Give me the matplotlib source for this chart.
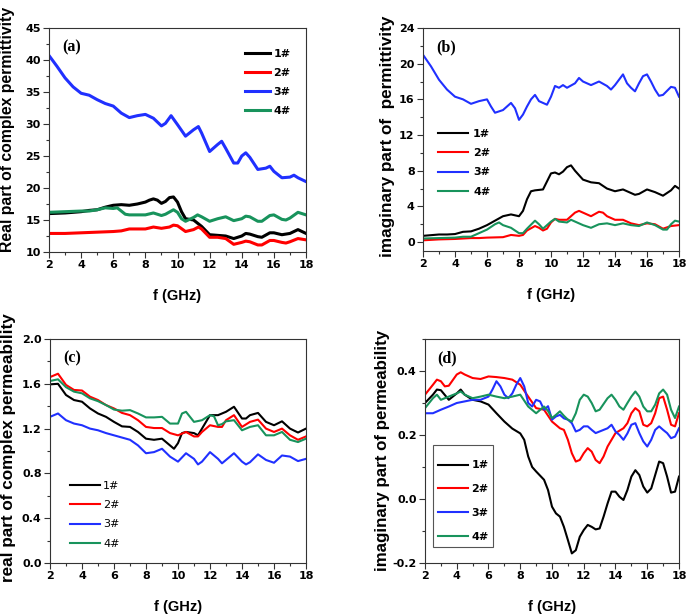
import numpy as np
import matplotlib
matplotlib.use("Agg")
import matplotlib.pyplot as plt
from matplotlib.ticker import MultipleLocator, FormatStrFormatter
from matplotlib.patches import Rectangle

plt.rcParams['font.family'] = ['Liberation Sans', 'DejaVu Sans']
plt.rcParams['font.weight'] = 'bold'

labels = ['1#', '2#', '3#', '4#']
colors = ['#000000', '#ff0000', '#2030ff', '#18935c']

# ---------------- (a) real part of permittivity ----------------
a1_f = [2, 3, 4, 4.5, 5, 5.5, 6, 6.5, 7, 7.5, 8, 8.25, 8.5, 8.75, 9, 9.25, 9.5, 9.75, 10, 10.25, 10.5, 11, 11.5, 12, 12.5, 13, 13.5, 14, 14.25, 14.5, 15, 15.25, 15.75, 16, 16.5, 17, 17.5, 18]
a1_v = [16.0, 16.1, 16.3, 16.5, 16.6, 17.0, 17.3, 17.4, 17.3, 17.5, 17.8, 18.1, 18.3, 18.1, 17.6, 17.9, 18.5, 18.6, 17.8, 16.3, 15.2, 15.0, 14.0, 12.7, 12.6, 12.5, 12.1, 12.5, 12.9, 12.8, 12.4, 12.3, 13.0, 13.0, 12.7, 12.9, 13.5, 12.9]
a2_f = [2, 3, 4, 5, 6, 6.5, 7, 7.5, 8, 8.5, 9, 9.5, 9.75, 10, 10.5, 11, 11.3, 11.5, 12, 12.5, 13, 13.5, 14, 14.25, 14.5, 15, 15.25, 15.75, 16, 16.5, 16.75, 17, 17.5, 18]
a2_v = [12.9, 12.9, 13.0, 13.1, 13.2, 13.3, 13.6, 13.6, 13.6, 13.9, 13.7, 13.9, 14.2, 14.1, 13.2, 13.5, 13.9, 13.6, 12.3, 12.3, 12.1, 11.2, 11.5, 11.7, 11.6, 11.1, 11.1, 11.8, 11.8, 11.5, 11.4, 11.6, 12.1, 11.9]
a3_f = [2, 2.5, 3, 3.5, 4, 4.5, 5, 5.5, 6, 6.5, 7, 7.5, 8, 8.5, 9, 9.25, 9.6, 10, 10.5, 10.75, 11, 11.3, 11.5, 12, 12.5, 12.75, 13, 13.5, 13.75, 14, 14.25, 14.5, 15, 15.5, 15.75, 16, 16.5, 17, 17.25, 17.5, 18]
a3_v = [40.7, 39.0, 37.2, 35.8, 34.8, 34.5, 33.8, 33.2, 32.8, 31.7, 31.0, 31.3, 31.5, 30.9, 29.7, 30.1, 31.3, 29.9, 28.1, 28.6, 29.1, 29.6, 28.6, 25.7, 26.8, 27.3, 26.2, 23.9, 23.9, 25.0, 25.5, 24.8, 22.9, 23.1, 23.4, 22.6, 21.6, 21.7, 22.0, 21.6, 21.0]
a4_f = [2, 3, 4, 4.5, 5, 5.5, 6, 6.25, 6.75, 7, 7.5, 8, 8.5, 9, 9.25, 9.75, 10, 10.25, 10.5, 11, 11.25, 11.5, 12, 12.5, 13, 13.5, 14, 14.25, 14.5, 15, 15.25, 15.75, 16, 16.5, 16.75, 17, 17.5, 18]
a4_v = [16.2, 16.3, 16.4, 16.4, 16.6, 16.9, 16.8, 16.9, 15.9, 15.8, 15.8, 15.8, 16.1, 15.7, 15.9, 16.6, 16.2, 15.2, 14.8, 15.4, 15.8, 15.5, 14.8, 15.2, 15.5, 14.9, 15.2, 15.6, 15.5, 14.8, 14.8, 15.7, 15.8, 15.1, 15.0, 15.3, 16.2, 15.8]

# ---------------- (b) imaginary part of permittivity ----------------
b1_f = [2, 3, 3.5, 4, 4.5, 5, 5.5, 6, 6.5, 7, 7.5, 8, 8.25, 8.5, 8.75, 9, 9.5, 9.75, 10, 10.25, 10.5, 10.75, 11, 11.25, 11.5, 12, 12.5, 13, 13.5, 14, 14.5, 15, 15.25, 15.5, 16, 16.5, 17, 17.5, 17.75, 18]
b1_v = [0.7, 0.85, 0.85, 0.9, 1.15, 1.2, 1.5, 1.9, 2.4, 2.9, 3.1, 2.9, 3.5, 4.8, 5.7, 5.8, 5.9, 6.8, 7.7, 7.8, 7.6, 7.9, 8.4, 8.6, 8.0, 7.0, 6.7, 6.6, 6.0, 5.7, 5.9, 5.5, 5.3, 5.4, 5.9, 5.6, 5.2, 5.8, 6.3, 6.0]
b2_f = [2, 3, 4, 5, 5.5, 6, 7, 7.5, 8, 8.25, 8.5, 9, 9.25, 9.5, 9.75, 10, 10.25, 10.5, 11, 11.5, 11.75, 12, 12.5, 13, 13.25, 13.5, 14, 14.5, 15, 15.5, 16, 16.5, 17, 17.5, 18]
b2_v = [0.2, 0.3, 0.35, 0.45, 0.45, 0.5, 0.55, 0.8, 0.7, 0.8, 1.3, 1.8, 1.6, 1.3, 1.5, 2.2, 2.6, 2.5, 2.5, 3.3, 3.5, 3.3, 2.9, 3.4, 3.3, 2.9, 2.5, 2.5, 2.1, 1.9, 2.1, 2.0, 1.5, 1.8, 1.9]
b3_f = [2, 2.5, 3, 3.5, 4, 4.5, 5, 5.5, 6, 6.25, 6.5, 7, 7.5, 7.75, 8, 8.25, 8.5, 8.75, 9, 9.25, 9.5, 9.75, 10, 10.25, 10.5, 10.75, 11, 11.5, 11.75, 12, 12.5, 13, 13.5, 13.75, 14, 14.25, 14.5, 14.75, 15, 15.25, 15.5, 15.75, 16, 16.25, 16.5, 16.75, 17, 17.5, 17.75, 18]
b3_v = [21.0, 19.7, 18.2, 17.1, 16.3, 16.0, 15.5, 15.8, 16.0, 15.2, 14.5, 14.8, 15.6, 15.0, 13.7, 14.3, 15.2, 16.0, 16.5, 15.8, 15.6, 15.4, 16.3, 17.5, 17.3, 17.6, 17.3, 17.8, 18.4, 18.0, 17.6, 18.0, 17.5, 17.1, 17.6, 18.2, 18.8, 17.8, 17.3, 16.9, 17.8, 18.6, 18.8, 18.0, 17.1, 16.4, 16.5, 17.4, 17.3, 16.3]
b4_f = [2, 3, 4, 4.5, 5, 5.5, 6, 6.5, 6.75, 7, 7.5, 8, 8.25, 8.5, 9, 9.25, 9.5, 10, 10.25, 10.5, 11, 11.25, 11.5, 12, 12.5, 13, 13.5, 14, 14.5, 15, 15.5, 16, 16.5, 17, 17.25, 17.5, 17.75, 18]
b4_v = [0.4, 0.45, 0.5, 0.6, 0.6, 1.0, 1.4, 2.0, 2.2, 1.9, 1.6, 1.0, 1.0, 1.5, 2.4, 2.0, 1.5, 2.3, 2.6, 2.3, 2.2, 2.5, 2.3, 1.9, 1.6, 2.0, 2.1, 1.9, 2.1, 1.9, 1.8, 2.2, 1.9, 1.4, 1.4, 2.0, 2.4, 2.3]

# ---------------- (c) real part of permeability ----------------
c1_f = [2, 2.5, 3, 3.5, 4, 4.5, 5, 5.5, 6, 6.5, 7, 7.5, 8, 8.5, 9, 9.5, 9.75, 10, 10.25, 10.5, 11, 11.25, 11.5, 12, 12.5, 13, 13.5, 14, 14.25, 14.5, 15, 15.5, 16, 16.5, 17, 17.5, 18]
c1_v = [1.595, 1.60, 1.50, 1.455, 1.44, 1.38, 1.335, 1.305, 1.26, 1.22, 1.215, 1.17, 1.11, 1.10, 1.11, 1.05, 1.02, 1.07, 1.16, 1.17, 1.16, 1.14, 1.20, 1.32, 1.32, 1.35, 1.395, 1.29, 1.29, 1.32, 1.34, 1.26, 1.23, 1.265, 1.20, 1.165, 1.20]
c2_f = [2, 2.5, 3, 3.5, 4, 4.5, 5, 5.5, 6, 6.5, 7, 7.5, 8, 8.5, 9, 9.5, 10, 10.5, 11, 11.25, 11.5, 12, 12.5, 12.75, 13, 13.5, 14, 14.5, 15, 15.5, 16, 16.5, 17, 17.5, 18]
c2_v = [1.66, 1.69, 1.59, 1.545, 1.54, 1.485, 1.455, 1.41, 1.38, 1.34, 1.32, 1.275, 1.215, 1.205, 1.205, 1.16, 1.14, 1.17, 1.13, 1.13, 1.17, 1.23, 1.215, 1.215, 1.275, 1.32, 1.215, 1.26, 1.28, 1.20, 1.17, 1.20, 1.14, 1.10, 1.13]
c3_f = [2, 2.5, 3, 3.5, 4, 4.5, 5, 5.5, 6, 6.5, 7, 7.5, 8, 8.5, 9, 9.5, 10, 10.5, 11, 11.25, 11.5, 12, 12.5, 12.75, 13, 13.5, 14, 14.25, 14.5, 15, 15.5, 16, 16.5, 17, 17.5, 18]
c3_v = [1.305, 1.335, 1.275, 1.245, 1.23, 1.20, 1.185, 1.16, 1.14, 1.12, 1.10, 1.05, 0.98, 0.99, 1.02, 0.95, 0.905, 0.98, 0.93, 0.88, 0.905, 0.99, 0.93, 0.89, 0.92, 0.98, 0.905, 0.88, 0.90, 0.97, 0.92, 0.895, 0.96, 0.95, 0.91, 0.93]
c4_f = [2, 2.5, 3, 3.5, 4, 4.5, 5, 5.5, 6, 6.5, 7, 7.5, 8, 8.5, 9, 9.5, 10, 10.25, 10.5, 11, 11.5, 12, 12.25, 12.5, 12.75, 13, 13.5, 14, 14.5, 15, 15.5, 16, 16.5, 17, 17.5, 18]
c4_v = [1.625, 1.64, 1.57, 1.53, 1.515, 1.47, 1.445, 1.41, 1.37, 1.36, 1.365, 1.335, 1.30, 1.30, 1.305, 1.245, 1.245, 1.335, 1.35, 1.26, 1.275, 1.32, 1.31, 1.23, 1.24, 1.265, 1.275, 1.185, 1.215, 1.23, 1.14, 1.14, 1.17, 1.10, 1.08, 1.11]

# ---------------- (d) imaginary part of permeability ----------------
d1_f = [2, 2.5, 2.75, 3, 3.5, 4, 4.25, 4.5, 5, 5.5, 6, 6.5, 7, 7.5, 8, 8.25, 8.5, 8.75, 9, 9.5, 9.75, 10, 10.25, 10.5, 10.75, 11, 11.25, 11.5, 11.75, 12, 12.25, 12.5, 12.75, 13, 13.25, 13.5, 13.75, 14, 14.25, 14.5, 14.75, 15, 15.25, 15.5, 15.75, 16, 16.25, 16.5, 16.75, 17, 17.25, 17.5, 17.75, 18]
d1_v = [0.30, 0.326, 0.342, 0.34, 0.31, 0.33, 0.342, 0.326, 0.31, 0.305, 0.295, 0.268, 0.242, 0.22, 0.205, 0.185, 0.133, 0.10, 0.086, 0.06, 0.028, -0.024, -0.045, -0.055, -0.087, -0.128, -0.17, -0.16, -0.118, -0.097, -0.081, -0.087, -0.095, -0.092, -0.055, -0.014, 0.023, 0.023, 0.007, -0.003, 0.028, 0.07, 0.09, 0.075, 0.039, 0.02, 0.033, 0.075, 0.117, 0.112, 0.07, 0.02, 0.023, 0.07]
d2_f = [2, 2.5, 2.75, 3, 3.25, 3.5, 4, 4.25, 4.5, 5, 5.5, 6, 6.5, 7, 7.5, 8, 8.5, 9, 9.5, 10, 10.5, 10.75, 11, 11.25, 11.5, 11.75, 12, 12.25, 12.5, 12.75, 13, 13.25, 13.5, 14, 14.5, 14.75, 15, 15.25, 15.5, 15.75, 16, 16.25, 16.5, 16.75, 17, 17.25, 17.5, 17.75, 18]
d2_v = [0.326, 0.357, 0.373, 0.368, 0.352, 0.354, 0.389, 0.396, 0.389, 0.378, 0.375, 0.383, 0.381, 0.378, 0.373, 0.357, 0.32, 0.284, 0.279, 0.242, 0.221, 0.216, 0.185, 0.143, 0.117, 0.122, 0.143, 0.159, 0.148, 0.122, 0.112, 0.133, 0.164, 0.206, 0.221, 0.237, 0.268, 0.284, 0.274, 0.232, 0.227, 0.237, 0.268, 0.315, 0.32, 0.279, 0.232, 0.227, 0.268]
d3_f = [2, 2.5, 3, 3.5, 4, 4.5, 5, 5.5, 6, 6.25, 6.5, 6.75, 7, 7.25, 7.5, 7.75, 8, 8.25, 8.5, 8.75, 9, 9.25, 9.5, 9.75, 10, 10.25, 10.5, 10.75, 11, 11.25, 11.5, 11.75, 12, 12.25, 12.5, 12.75, 13, 13.5, 13.75, 14, 14.25, 14.5, 14.75, 15, 15.25, 15.5, 15.75, 16, 16.25, 16.5, 16.75, 17, 17.25, 17.5, 17.75, 18]
d3_v = [0.268, 0.268, 0.279, 0.289, 0.30, 0.305, 0.31, 0.31, 0.32, 0.342, 0.368, 0.352, 0.326, 0.315, 0.33, 0.357, 0.378, 0.352, 0.30, 0.289, 0.31, 0.305, 0.279, 0.29, 0.248, 0.258, 0.263, 0.252, 0.248, 0.237, 0.211, 0.216, 0.227, 0.227, 0.216, 0.206, 0.211, 0.221, 0.232, 0.211, 0.20, 0.185, 0.205, 0.232, 0.237, 0.206, 0.18, 0.164, 0.185, 0.216, 0.227, 0.216, 0.206, 0.19, 0.195, 0.221]
d4_f = [2, 2.5, 2.75, 3, 3.5, 4, 4.25, 4.5, 5, 5.5, 6, 6.5, 7, 7.5, 8, 8.5, 9, 9.5, 9.75, 10, 10.25, 10.5, 10.75, 11, 11.25, 11.5, 11.75, 12, 12.25, 12.5, 12.75, 13, 13.5, 13.75, 14, 14.25, 14.5, 14.75, 15, 15.25, 15.5, 15.75, 16, 16.25, 16.5, 16.75, 17, 17.25, 17.5, 17.75, 18]
d4_v = [0.284, 0.315, 0.326, 0.31, 0.32, 0.33, 0.336, 0.326, 0.315, 0.32, 0.326, 0.32, 0.315, 0.32, 0.326, 0.289, 0.268, 0.289, 0.275, 0.253, 0.263, 0.274, 0.26, 0.248, 0.242, 0.268, 0.31, 0.326, 0.32, 0.30, 0.274, 0.279, 0.315, 0.326, 0.31, 0.289, 0.279, 0.30, 0.32, 0.336, 0.32, 0.289, 0.274, 0.274, 0.295, 0.33, 0.342, 0.326, 0.279, 0.253, 0.289]

x_ticks = [2, 4, 6, 8, 10, 12, 14, 16, 18]

fig = plt.figure(figsize=(6.87, 6.16), dpi=100)
W, H = 687.0, 616.0

def make_ax(l, t, r, b):
    return fig.add_axes([l / W, 1 - b / H, (r - l) / W, (b - t) / H])

axa = make_ax(49, 28, 306, 252)
axb = make_ax(423, 28, 679, 251)
axc = make_ax(50, 339, 306, 563)
axd = make_ax(425, 339, 679, 563)

panels = [
    (axa, [(a1_f, a1_v), (a2_f, a2_v), (a3_f, a3_v), (a4_f, a4_v)], (10, 45), [10, 15, 20, 25, 30, 35, 40, 45], 2.5, '%d',
     'Real part of complex permittivity', '(a)', 2.2, -0.132, 0.545, 11.3),
    (axb, [(b1_f, b1_v), (b2_f, b2_v), (b3_f, b3_v), (b4_f, b4_v)], (-1, 24), [0, 4, 8, 12, 16, 20, 24], 2, '%d',
     'imaginary part of  permittivity', '(b)', 1.5, -0.109, 0.513, 12.3),
    (axc, [(c1_f, c1_v), (c2_f, c2_v), (c3_f, c3_v), (c4_f, c4_v)], (0, 2.0), [0.0, 0.4, 0.8, 1.2, 1.6, 2.0], 0.2, '%.1f',
     'real part of complex permeability', '(c)', 1.5, -0.133, 0.513, 12.3),
    (axd, [(d1_f, d1_v), (d2_f, d2_v), (d3_f, d3_v), (d4_f, d4_v)], (-0.2, 0.5), [-0.2, 0.0, 0.2, 0.4], 0.1, '%.1f',
     'imaginary part of permeability', '(d)', 1.5, -0.138, 0.504, 12.2),
]

tick_font = {'family': 'DejaVu Sans', 'weight': 'bold', 'size': 8}

for ax, series, ylim, yt, ymin, fmt, ylabel, tag, lw, ylx, yly, ylfs in panels:
    for (f, v), c, lab in zip(series, colors, labels):
        ax.plot(f, v, color=c, lw=lw, label=lab, solid_joinstyle='round')
    ax.set_xlim(2, 18)
    ax.set_xticks(x_ticks)
    ax.xaxis.set_minor_locator(MultipleLocator(1))
    ax.set_yticks(yt)
    ax.yaxis.set_minor_locator(MultipleLocator(ymin))
    ax.yaxis.set_major_formatter(FormatStrFormatter(fmt))
    ax.set_ylim(*ylim)
    ax.tick_params(which='both', direction='out', top=False, right=False, width=0.8, pad=2,
                   color='#333333')
    ax.tick_params(which='major', length=4)
    ax.tick_params(which='minor', length=2.5)
    for t in ax.get_xticklabels() + ax.get_yticklabels():
        t.set_fontproperties(tick_font)
    for sp in ax.spines.values():
        sp.set_linewidth(0.8)
        sp.set_color('#333333')
    ax.set_xlabel('f (GHz)', fontsize=10.5, fontweight='bold')
    ax.xaxis.set_label_coords(0.5, -0.165)
    ax.set_ylabel(ylabel, fontsize=ylfs, fontweight='bold')
    ax.yaxis.set_label_coords(ylx, yly)
    ax.text(0.05, 0.95, tag, transform=ax.transAxes, fontsize=11.5, fontweight='bold',
            family=['Liberation Serif', 'DejaVu Serif'], va='top', ha='left')

leg_prop = {'family': 'DejaVu Sans', 'weight': 'bold', 'size': 8}
axa.legend(loc='upper left', bbox_to_anchor=(0.763, 0.908), frameon=False, prop=leg_prop,
           handlelength=2.25, handletextpad=0.3, labelspacing=0.82, borderpad=0, borderaxespad=0)
axb.legend(loc='upper left', bbox_to_anchor=(0.059, 0.549), frameon=False, prop=leg_prop,
           handlelength=2.7, handletextpad=0.45, labelspacing=0.85, borderpad=0, borderaxespad=0)
axc.legend(loc='upper left', bbox_to_anchor=(0.078, 0.368), frameon=False,
           prop={'family': 'DejaVu Sans', 'weight': 'normal', 'size': 8},
           handlelength=2.7, handletextpad=0.3, labelspacing=0.85, borderpad=0, borderaxespad=0)
axd.legend(loc='upper left', bbox_to_anchor=(0.051, 0.458), frameon=False, prop=leg_prop,
           handlelength=2.7, handletextpad=0.3, labelspacing=1.25, borderpad=0, borderaxespad=0)
axd.add_patch(Rectangle((0.0315, 0.0714), 0.236, 0.455, transform=axd.transAxes,
                        fill=False, edgecolor='#555555', lw=0.8, zorder=5))

fig.savefig('out.png', dpi=100)
